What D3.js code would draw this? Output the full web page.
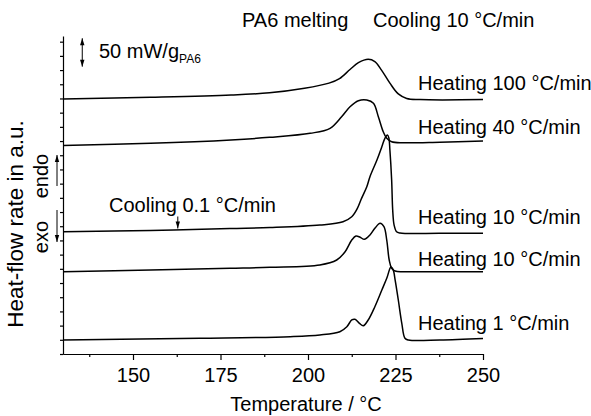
<!DOCTYPE html>
<html>
<head>
<meta charset="utf-8">
<script src="https://cdn.jsdelivr.net/npm/d3@7/dist/d3.min.js"></script>
<style>
  html, body { margin: 0; padding: 0; background: #fff; }
  svg { display: block; }
  text { font-family: "Liberation Sans", Arial, Helvetica, sans-serif; fill: #000; }
</style>
</head>
<body>
<svg id="chart" width="591" height="416"></svg>
<script>
// DSC traces of PA6 melting, stacked with vertical offsets (mW/g).
const xTicksMajor = [150, 175, 200, 225, 250];
const xTicksMinor = [137.5, 162.5, 187.5, 212.5, 237.5];

const temp100 = [130, 155, 178, 189, 199, 206, 209, 212, 214.4, 217.2, 219.1, 221, 223.4, 225.8, 228.2, 232, 250];
const heat100 = [449, 452, 456, 460, 468, 477, 485, 501, 513, 519, 515, 500, 477, 458, 450, 448, 448];

const temp40 = [130, 155, 178, 189, 200.6, 206.3, 209.6, 212, 214.4, 216.8, 218.7, 220.1, 221.5, 222.5, 223.9, 227.2, 237.7, 250];
const heat40 = [367, 371, 377, 381.5, 388.6, 397.4, 417.8, 435.4, 446, 447.2, 441.4, 417.8, 391.4, 379.8, 373.8, 372, 373, 375];

const temp10a = [130, 155, 177.7, 189.1, 203.4, 210, 212.5, 214.1, 215.3, 216.8, 217.7, 219.7, 221.1, 222, 222.7, 223.1, 223.4, 223.9, 224.2, 224.6, 225.3, 226.3, 237.7, 250];
const heat10a = [215.3, 217.4, 221, 222.7, 227.1, 232.9, 241.7, 256.5, 274.1, 294.5, 312.2, 341.6, 365, 380.3, 385.6, 380.3, 359.2, 306.3, 253.5, 227.1, 215.3, 213, 212.5, 212.5];

const temp10b = [130, 155, 177.7, 189.1, 203.4, 208.2, 210.6, 212.5, 213.7, 214.9, 216.1, 217.7, 219.1, 220.6, 221.7, 222.5, 223.2, 223.9, 224.9, 227.2, 237.7, 250];
const heat10b = [144.9, 147.9, 150.9, 152.6, 156.7, 165.5, 180.1, 200.7, 207.8, 205.5, 201.9, 209.5, 221.3, 230.1, 224.1, 200.7, 165.5, 150.9, 146.1, 144.9, 144.9, 144.9];

const temp1 = [130, 169.1, 194.9, 203.4, 209.1, 211.1, 212.5, 213.4, 214.7, 215.8, 217.2, 219.1, 221.1, 222.5, 223.7, 224.3, 224.9, 225.8, 226.8, 227.7, 228.7, 237.7, 250];
const heat1 = [24.6, 27.6, 30.5, 33.5, 39.3, 48.1, 59.9, 61.1, 54, 49.8, 59.9, 83.3, 112.7, 133.3, 153.2, 149, 130.3, 95.1, 54, 27.6, 24.6, 24.6, 27.3];

const seriesNames = ["Heating 100 °C/min", "Heating 40 °C/min", "Heating 10 °C/min", "Heating 10 °C/min", "Heating 1 °C/min"];
const seriesTemps = [temp100, temp40, temp10a, temp10b, temp1];
const seriesHeats = [heat100, heat40, heat10a, heat10b, heat1];
const labelLevels = [465, 387, 229, 155, 42];   // baseline height of each trace label, mW/g

const scaleBarTop = 556;   // mW/g, upper end of the scale bar
const scaleBarSize = 50;   // mW/g
const scaleBarTemp = 135.5;
const coolingMarkTemp = 162.8;

const svg = d3.select("#chart");
const FONT = 20;

const x = d3.scaleLinear().domain([130, 250]).range([63, 483]);
const y = d3.scaleLinear().domain([0, 560]).range([354, 36]);

// Axes
const xAxis = svg.append("g").attr("transform", `translate(0,${y(0)})`)
  .call(d3.axisBottom(x).tickValues(xTicksMajor).tickSize(6).tickSizeOuter(0).tickPadding(8));
xAxis.selectAll("text").style("font-size", FONT + "px").style("font-family", '"Liberation Sans", Arial, sans-serif');
svg.append("g").attr("transform", `translate(0,${y(0)})`)
  .call(d3.axisBottom(x).tickValues(xTicksMinor).tickSize(3).tickSizeOuter(0).tickFormat(""));

svg.append("g").attr("transform", `translate(${x(130)},0)`)
  .call(d3.axisLeft(y).tickValues(d3.range(0, 560, 25)).tickSize(3).tickSizeOuter(0).tickFormat(""));

svg.selectAll(".domain, .tick line").attr("stroke", "#000").attr("stroke-width", 1.2);

// Curves
const line = d3.line().x(d => x(d[0])).y(d => y(d[1])).curve(d3.curveCatmullRom.alpha(0.5));
seriesNames.forEach((name, k) => {
  const pts = seriesTemps[k].map((t, i) => [t, seriesHeats[k][i]]);
  svg.append("path").attr("d", line(pts))
    .attr("fill", "none").attr("stroke", "#000").attr("stroke-width", 1.5);
  svg.append("text").attr("x", 418).attr("y", y(labelLevels[k]))
    .style("font-size", FONT + "px").text(name);
});

// Arrow helper: line with filled heads
function arrow(x0, y0, x1, y1, heads) {
  svg.append("line").attr("x1", x0).attr("y1", y0).attr("x2", x1).attr("y2", y1)
    .attr("stroke", "#000").attr("stroke-width", 1);
  const head = (px, py, dir) => {
    svg.append("path")
      .attr("d", `M${px},${py} L${px - 2.2},${py - dir * 7} L${px + 2.2},${py - dir * 7} Z`)
      .attr("fill", "#000");
  };
  if (heads.includes("end")) head(x1, y1, y1 > y0 ? 1 : -1);
  if (heads.includes("start")) head(x0, y0, y0 > y1 ? 1 : -1);
}

// Scale bar
arrow(x(scaleBarTemp), y(scaleBarTop), x(scaleBarTemp), y(scaleBarTop - scaleBarSize), ["start", "end"]);
const sb = svg.append("text").attr("x", 99).attr("y", 58).style("font-size", FONT + "px");
sb.append("tspan").text("50 mW/g");
sb.append("tspan").attr("dy", 5).style("font-size", "12px").text("PA6");

// Titles on top
svg.append("text").attr("x", 242).attr("y", 27).style("font-size", FONT + "px").text("PA6 melting");
svg.append("text").attr("x", 373).attr("y", 27).style("font-size", FONT + "px").text("Cooling 10 °C/min");

// Cooling 0.1 annotation
svg.append("text").attr("x", 109).attr("y", 212).style("font-size", FONT + "px").text("Cooling 0.1 °C/min");
arrow(x(coolingMarkTemp), 216.5, x(coolingMarkTemp), 228.5, ["end"]);

// endo / exo
svg.append("text").attr("transform", "translate(47.5,176) rotate(-90)")
  .attr("text-anchor", "middle").style("font-size", FONT + "px").text("endo");
svg.append("text").attr("transform", "translate(47.5,237) rotate(-90)")
  .attr("text-anchor", "middle").style("font-size", FONT + "px").text("exo");
arrow(57, 186, 57, 155, ["end"]);
arrow(57, 210, 57, 242, ["end"]);

// Axis titles
svg.append("text").attr("transform", "translate(23,224) rotate(-90)")
  .attr("text-anchor", "middle").style("font-size", "22.5px").text("Heat-flow rate in a.u.");
svg.append("text").attr("x", 306).attr("y", 411).attr("text-anchor", "middle")
  .style("font-size", FONT + "px").text("Temperature / °C");
</script>
</body>
</html>
